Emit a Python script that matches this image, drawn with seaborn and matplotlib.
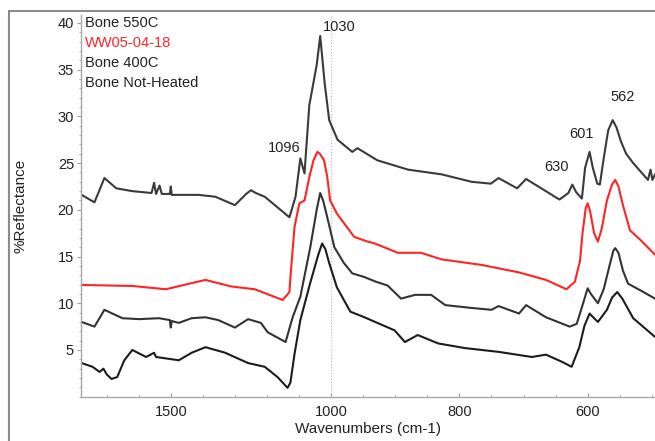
import numpy as np
import pandas as pd
import matplotlib
matplotlib.use("Agg")
from matplotlib import pyplot as plt
from matplotlib.patches import Rectangle
from matplotlib.ticker import FixedLocator, MultipleLocator
import seaborn as sns

# spectra: wavenumber (cm-1) and %Reflectance
wn_550 = [1778, 1738, 1707, 1670, 1620, 1560, 1552, 1546, 1535, 1528, 1503, 1500, 1497,
          1414, 1361, 1300, 1265, 1250, 1235, 1207, 1130, 1111, 1096, 1083, 1068, 1045,
          1034, 1020, 1006, 990, 967, 959, 928, 880, 828, 781, 751, 739, 710, 696, 644,
          630, 624, 618, 609, 604, 597, 592, 585, 581, 575, 568, 561, 555, 548, 540, 529,
          506, 502, 499, 495]
r_550 = [21.6, 20.8, 23.4, 22.3, 22.0, 21.8, 22.9, 21.7, 22.6, 21.7, 21.7, 22.5, 21.6,
         21.6, 21.4, 20.5, 21.7, 22.1, 21.8, 21.4, 19.2, 21.4, 25.5, 23.9, 31.2, 35.5,
         38.6, 33.5, 29.6, 27.5, 26.2, 26.6, 25.3, 24.3, 23.8, 23.0, 22.8, 23.4, 22.3,
         23.3, 21.1, 21.8, 22.7, 21.9, 21.2, 24.5, 26.2, 24.5, 22.8, 22.7, 25.5, 28.5,
         29.6, 28.8, 27.3, 26.0, 25.0, 23.2, 24.3, 23.2, 23.8]

wn_ww = [1778, 1620, 1515, 1454, 1392, 1312, 1238, 1151, 1130, 1126, 1114, 1099, 1083,
         1068, 1055, 1043, 1035, 1022, 1012, 1003, 991, 964, 943, 932, 896, 860, 828,
         786, 765, 707, 665, 633, 620, 612, 608, 603, 600, 596, 590, 584, 578, 570, 562,
         557, 552, 545, 534, 518, 495]
r_ww = [11.96, 11.85, 11.5, 12.0, 12.5, 11.8, 11.5, 10.35, 11.2, 13.2, 18.2, 20.7, 21.0,
        23.5, 25.3, 26.2, 26.0, 25.3, 23.5, 21.0, 19.6, 17.1, 16.6, 16.4, 15.4, 15.4, 14.7,
        14.3, 14.1, 13.3, 12.5, 11.5, 12.3, 14.5, 17.5, 20.2, 20.7, 19.8, 17.5, 16.6, 18.0,
        21.0, 22.7, 23.2, 22.5, 20.5, 17.8, 16.8, 15.2]

wn_400 = [1778, 1738, 1707, 1651, 1599, 1537, 1503, 1500, 1497, 1475, 1435, 1392, 1352,
          1300, 1259, 1219, 1198, 1142, 1120, 1096, 1065, 1045, 1034, 1025, 1012, 995,
          980, 967, 948, 930, 912, 891, 869, 844, 822, 781, 750, 739, 707, 696, 665, 628,
          617, 608, 600, 595, 584, 575, 566, 560, 557, 552, 545, 537, 513, 495]
r_400 = [8.0, 7.5, 9.3, 8.4, 8.3, 8.4, 8.2, 7.4, 8.1, 7.9, 8.4, 8.5, 8.2,
         7.4, 8.3, 7.9, 6.9, 5.85, 8.5, 10.7, 16.0, 20.0, 21.8, 21.0, 19.2, 16.0,
         14.3, 13.2, 12.8, 12.3, 11.9, 10.5, 10.9, 10.9, 9.8, 9.5, 9.3, 9.7, 8.9, 9.8, 8.5,
         7.5, 7.8, 9.8, 11.6, 11.0, 10.0, 11.5, 14.0, 15.6, 15.9, 15.4, 13.5, 12.1, 11.2,
         10.5]

wn_raw = [1778, 1744, 1722, 1710, 1700, 1685, 1667, 1645, 1620, 1577, 1552, 1546, 1475,
          1435, 1392, 1330, 1259, 1207, 1167, 1136, 1127, 1114, 1096, 1065, 1040, 1028,
          1018, 1006, 991, 970, 948, 928, 901, 885, 865, 833, 791, 739, 687, 665, 639,
          625, 613, 605, 597, 590, 584, 570, 562, 554, 546, 529, 495]
r_raw = [3.6, 3.2, 2.65, 3.0, 2.4, 1.9, 2.1, 3.9, 5.0, 4.25, 4.7, 4.25, 3.9,
         4.7, 5.3, 4.7, 3.6, 3.2, 2.1, 0.95, 1.5, 4.6, 8.2, 12.2, 15.2, 16.4,
         15.8, 14.3, 11.7, 9.1, 8.5, 7.9, 7.1, 5.85, 6.6, 5.7, 5.2, 4.8, 4.25, 4.5, 3.7,
         3.2, 5.3, 7.6, 8.9, 8.4, 8.0, 9.3, 10.6, 11.2, 10.5, 8.4, 6.4]

samples = ["Bone 550C", "WW05-04-18", "Bone 400C", "Bone Not-Heated"]
colors = ["#3a3a3a", "#ff2424", "#333333", "#1c1c1c"]

peak_text = ["1096", "1030", "630", "601", "562"]
peak_x = [1145, 987, 649, 609, 545]
peak_y = [26.6, 39.6, 24.6, 28.1, 32.1]

parts = []
for name, wn, r in zip(samples, [wn_550, wn_ww, wn_400, wn_raw], [r_550, r_ww, r_400, r_raw]):
    parts.append(pd.DataFrame({"wn": wn, "refl": r, "sample": name}))
df = pd.concat(parts, ignore_index=True)

sns.set_style("white")
plt.rcParams["font.family"] = ["Liberation Sans", "DejaVu Sans"]

fig = plt.figure(figsize=(6.55, 4.41), dpi=100)
ax = fig.add_axes([81 / 655, 1 - 396.7 / 441, 574 / 655, 381.7 / 441])

sns.lineplot(data=df, x="wn", y="refl", hue="sample", palette=dict(zip(samples, colors)),
             estimator=None, sort=False, lw=1.5, legend=False, ax=ax)


# axis is squeezed by 2 above 1000 cm-1
def fwd(x):
    x = np.asarray(x, dtype=float)
    return np.where(x > 1000, 1000 + (x - 1000) / 2, x)


def inv(x):
    x = np.asarray(x, dtype=float)
    return np.where(x > 1000, 1000 + (x - 1000) * 2, x)


ax.set_xscale("function", functions=(fwd, inv))
ax.set_xlim(1780, 495)
ax.set_ylim(0, 40.85)

ax.set_xticks([1500, 1000, 800, 600])
ax.set_xticklabels(["1500", "1000", "800", "600"])
ax.xaxis.set_minor_locator(FixedLocator([1700, 1600, 1400, 1300, 1200, 1100, 950, 900,
                                         850, 750, 700, 650, 550, 500]))
ax.set_yticks([5, 10, 15, 20, 25, 30, 35, 40])
ax.yaxis.set_minor_locator(MultipleLocator(1))

ax.axvline(1000, color="#b8b8b8", ls=":", lw=0.8, zorder=0)

for s in ["top", "right"]:
    ax.spines[s].set_visible(False)
for s in ["left", "bottom"]:
    ax.spines[s].set_color("#a8a8a8")
    ax.spines[s].set_linewidth(1.0)

ax.tick_params(axis="x", which="both", bottom=True, direction="in", color="#a0a0a0")
ax.tick_params(axis="x", which="major", length=3, labelsize=10.5, pad=6, labelcolor="#222222")
ax.tick_params(axis="x", which="minor", length=2)
ax.tick_params(axis="y", which="both", left=True, direction="out", color="#a0a0a0")
ax.tick_params(axis="y", which="major", length=3, labelsize=10.5, pad=2, labelcolor="#222222")
ax.tick_params(axis="y", which="minor", length=1.5)

ax.set_xlabel("Wavenumbers (cm-1)", fontsize=11, color="#222222")
ax.xaxis.set_label_coords(0.5, -0.066)
ax.set_ylabel("%Reflectance", fontsize=11, color="#222222")
ax.yaxis.set_label_coords(-0.093, 0.5)

# legend as coloured text, no line keys
leg_y = [0.978, 0.926, 0.873, 0.821]
leg_c = ["#222222", "#ff2424", "#222222", "#222222"]
for name, yy, c in zip(samples, leg_y, leg_c):
    ax.text(0.007, yy, name, transform=ax.transAxes, color=c, fontsize=10.5, va="center")

for t, px, py in zip(peak_text, peak_x, peak_y):
    ax.text(px, py, t, fontsize=10.5, color="#222222", ha="center", va="center")

# outer frame of the exported picture
fig.patches.append(Rectangle((9 / 655, -0.05), 1.2, 1 - 11 / 441 + 0.05, transform=fig.transFigure,
                             fill=False, edgecolor="#8c8c8c", lw=1.5))

fig.savefig("out.png", dpi=100)
